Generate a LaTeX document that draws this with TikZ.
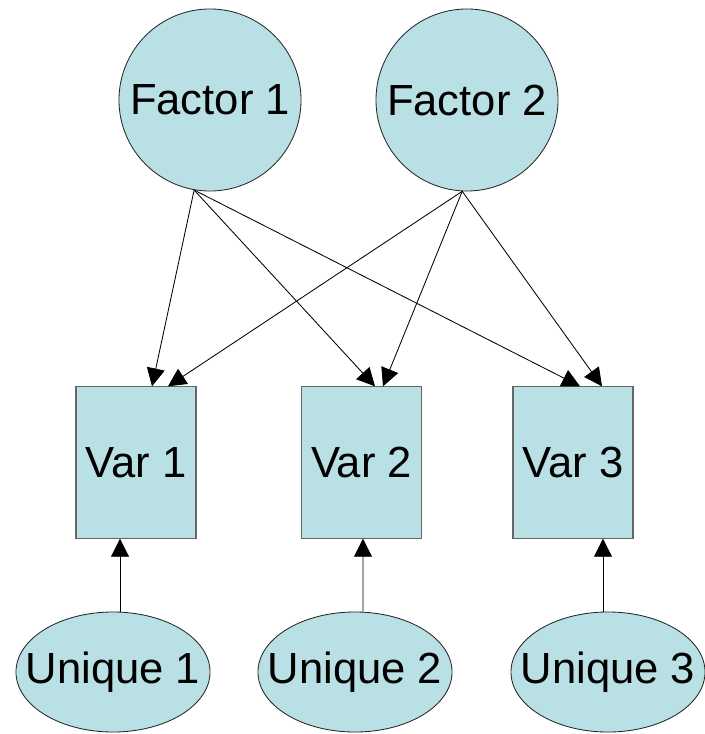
\documentclass[tikz,border=0pt]{standalone}
\usepackage{fontspec}
\setmainfont{Liberation Sans}
\usetikzlibrary{arrows.meta,shapes.geometric,calc}
\definecolor{nodefill}{RGB}{185,224,228}

\begin{document}
\begin{tikzpicture}[x=0.025cm, y=-0.025cm, semithick, >={Triangle[length=0.45cm,width=0.45cm]}, font=\fontsize{31}{36}\selectfont]
\tikzstyle{factor}=[circle, draw=black!85, fill=nodefill, minimum size=4.55cm, inner sep=0pt]
\tikzstyle{var}=[rectangle, draw=black!60, thick, fill=nodefill, minimum width=3cm, minimum height=3.78cm, inner sep=0pt]
\tikzstyle{unique}=[ellipse, draw=black!85, fill=nodefill, minimum width=4.85cm, minimum height=3cm, inner sep=0pt]
\useasboundingbox (0,0) rectangle (704,734);
% common factors
\node[factor] (F1) at (210,100) {Factor 1};
\node[factor] (F2) at (467,100) {Factor 2};
% observed variables
\node[var]    (V1) at (136,462.5) {Var 1};
\node[var]    (V2) at (361.5,462.5) {Var 2};
\node[var]    (V3) at (573,462.5) {Var 3};
% unique parts
\node[unique] (U1) at (113,672) {\makebox[0pt]{Unique 1}};
\node[unique] (U2) at (355,672) {\makebox[0pt]{Unique 2}};
\node[unique] (U3) at (608,672) {\makebox[0pt]{Unique 3}};
\path[->]
(F1.-100) edge ($(V1.north)+(16,0)$)
          edge ($(V2.north)+(13.5,0)$)
          edge ($(V3.north)+(7,0)$)
(F2.-93)  edge ($(V1.north)+(32,0)$)
          edge ($(V2.north)+(21.5,0)$)
          edge ($(V3.north)+(29,0)$)
($(U1.north)+(7,0)$)  edge ($(V1.south)+(-16,0)$)
($(U2.north)+(8,0)$)  edge ($(V2.south)+(1.5,0)$)
($(U3.north)+(-5,0)$) edge ($(V3.south)+(30,0)$);
\end{tikzpicture}
\end{document}
